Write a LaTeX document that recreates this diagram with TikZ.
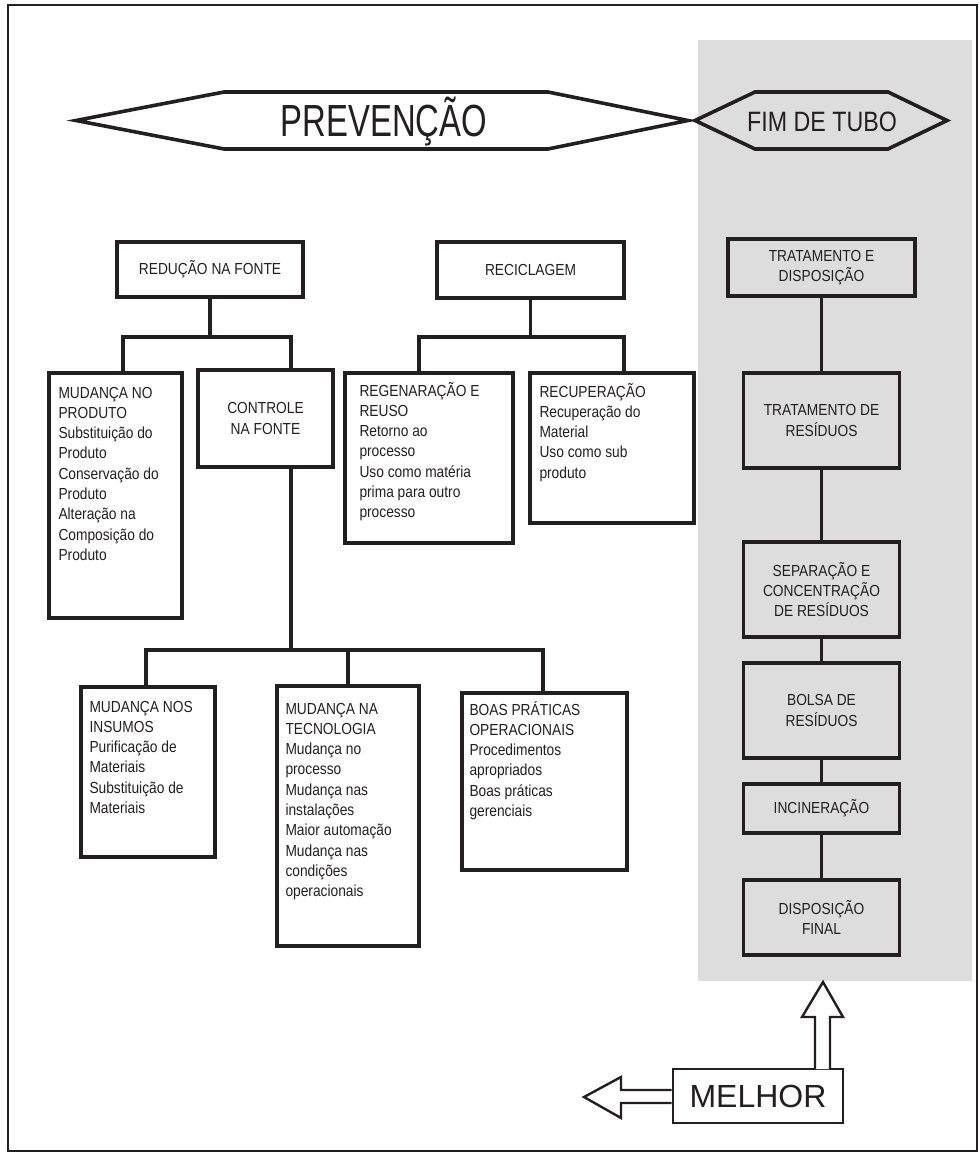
\documentclass[tikz,border=0pt]{standalone}
\usepackage{fontspec}
\setmainfont{Liberation Sans}[FakeStretch=0.86]
\newfontfamily\prevfont{Liberation Sans}[FakeStretch=0.73]
\newfontfamily\fimfont{Liberation Sans}[FakeStretch=0.83]
\newfontfamily\melfont{Liberation Sans}
\definecolor{ink}{RGB}{35,31,32}
\definecolor{band}{RGB}{221,221,221}
\newcommand\firstln{\rule{0pt}{16pt}}
\begin{document}
\begin{tikzpicture}[x=1pt,y=-1pt,
  box/.style={draw=ink,line width=3.4pt,rectangle,inner sep=0pt,line join=miter},
  ctext/.style={align=center,font=\fontsize{16}{20.3}\selectfont,text=ink},
  ltext/.style={align=left,anchor=north west,inner sep=0pt,font=\fontsize{16}{20.3}\selectfont,text=ink},
  conn/.style={draw=ink,line width=3.4pt,line join=miter},
  hexa/.style={draw=ink,line width=3.6pt,line join=miter},
  bigarrow/.style={draw=ink,line width=2.4pt,fill=white,line join=miter}]
\useasboundingbox (0,0) rectangle (979,1155);
% gray band
\fill[band] (698,40) rectangle (972,981);
% page frame
\draw[ink,line width=1.2pt] (8,5) rectangle (977,1151);
% hexagons
\draw[hexa,fill=white] (76,120.5) -- (224,92) -- (548,92) -- (688,120.5) -- (548,149) -- (224,149) -- cycle;
\draw[hexa] (695,120.5) -- (755,92) -- (888,92) -- (947,120.5) -- (888,149) -- (755,149) -- cycle;
\node[anchor=base,inner sep=0pt,text=ink,font=\prevfont\fontsize{45}{50}\selectfont] (prevt) at (384,137) {PREVENÇÃO};
\node[anchor=base,inner sep=0pt,text=ink,font=\fimfont\fontsize{28}{32}\selectfont] (fimt) at (822,132) {FIM DE TUBO};
% left tree
\node[box,ctext,minimum width=186pt,minimum height=55pt] (red) at (210,269.5) {REDUÇÃO NA FONTE};
\node[box,minimum width=133pt,minimum height=245pt] (prod) at (115.5,495.5) {};
\node[ltext] (prodt) at ([shift={(11pt,-10.5pt)}]prod.north west) {\firstln MUDANÇA NO\\PRODUTO\\Substituição do\\Produto\\Conservação do\\Produto\\Alteração na\\Composição do\\Produto};
\node[box,ctext,minimum width=135pt,minimum height=97pt] (ctrl) at (265.5,418.5) {CONTROLE\\NA FONTE};
\node[box,minimum width=134pt,minimum height=170pt] (insum) at (148,772) {};
\node[ltext] (insumt) at ([shift={(10pt,-10.5pt)}]insum.north west) {\firstln MUDANÇA NOS\\INSUMOS\\Purificação de\\Materiais\\Substituição de\\Materiais};
\node[box,minimum width=142pt,minimum height=260pt] (tecn) at (348,816) {};
\node[ltext] (tecnt) at ([shift={(10pt,-13.5pt)}]tecn.north west) {\firstln MUDANÇA NA\\TECNOLOGIA\\Mudança no\\processo\\Mudança nas\\instalações\\Maior automação\\Mudança nas\\condições\\operacionais};
\node[box,minimum width=165pt,minimum height=177pt] (boas) at (544.5,781.5) {};
\node[ltext] (boast) at ([shift={(9pt,-7.5pt)}]boas.north west) {\firstln BOAS PRÁTICAS\\OPERACIONAIS\\Procedimentos\\apropriados\\Boas práticas\\gerenciais};
% reciclagem
\node[box,ctext,minimum width=187pt,minimum height=56pt] (reci) at (530.5,270) {RECICLAGEM};
\node[box,minimum width=168pt,minimum height=170pt] (regen) at (429,458) {};
\node[ltext] (regent) at ([shift={(16pt,-8.5pt)}]regen.north west) {\firstln REGENARAÇÃO E\\REUSO\\Retorno ao\\processo\\Uso como matéria\\prima para outro\\processo};
\node[box,minimum width=164pt,minimum height=150pt] (recup) at (612,448) {};
\node[ltext] (recupt) at ([shift={(11pt,-9.5pt)}]recup.north west) {\firstln RECUPERAÇÃO\\Recuperação do\\Material\\Uso como sub\\produto};
% right column
\node[box,ctext,minimum width=187pt,minimum height=57pt] (trd) at (821.5,267.5) {TRATAMENTO E\\DISPOSIÇÃO};
\node[box,ctext,minimum width=156pt,minimum height=95pt] (trr) at (821.5,420.5) {TRATAMENTO DE\\RESÍDUOS};
\node[box,ctext,minimum width=156pt,minimum height=95pt] (sep) at (821.5,589.5) {SEPARAÇÃO E\\CONCENTRAÇÃO\\DE RESÍDUOS};
\node[box,ctext,minimum width=156pt,minimum height=95pt] (bol) at (821.5,710.5) {BOLSA DE\\RESÍDUOS};
\node[box,ctext,minimum width=156pt,minimum height=49pt] (inc) at (821.5,808.5) {INCINERAÇÃO};
\node[box,ctext,minimum width=156pt,minimum height=75pt] (dfin) at (821.5,917.5) {DISPOSIÇÃO\\FINAL};
% connectors
\coordinate (jr) at (210,337); \coordinate (dprod) at (123,337); \coordinate (dctrl) at (291,337);
\draw[conn] (red.south) -- (jr);
\draw[conn] (prod.north -| dprod) -- (dprod) -- (dctrl) -- (ctrl.north -| dctrl);
\coordinate (jc) at (291,650); \coordinate (dins) at (146,650); \coordinate (dtec) at (348,650); \coordinate (dboa) at (543,650);
\draw[conn] (ctrl.south -| jc) -- (jc);
\draw[conn] (insum.north -| dins) -- (dins) -- (dboa) -- (boas.north -| dboa);
\draw[conn] (dtec) -- (tecn.north -| dtec);
\coordinate (jk) at (530.5,337); \coordinate (dreg) at (419,337); \coordinate (drec) at (624,337);
\draw[conn] (reci.south) -- (jk);
\draw[conn] (regen.north -| dreg) -- (dreg) -- (drec) -- (recup.north -| drec);
\draw[conn] (trd.south) -- (trr.north);
\draw[conn] (trr.south) -- (sep.north);
\draw[conn] (sep.south) -- (bol.north);
\draw[conn] (bol.south) -- (inc.north);
\draw[conn] (inc.south) -- (dfin.north);
% melhor
\node[draw=ink,line width=2.8pt,fill=white,minimum width=170pt,minimum height=54pt,inner sep=0pt,text=ink,font=\melfont\fontsize{32}{36}\selectfont] (mel) at (758,1096) {MELHOR};
\draw[bigarrow] (mel.west |- 0,1090) -- (621,1090) -- (621,1077) -- (584,1097) -- (621,1118) -- (621,1103) -- (mel.west |- 0,1103);
\draw[bigarrow] (815,1069) -- (815,1017) -- (802,1017) -- (823,982) -- (843,1017) -- (830,1017) -- (830,1069);
\end{tikzpicture}
\end{document}
